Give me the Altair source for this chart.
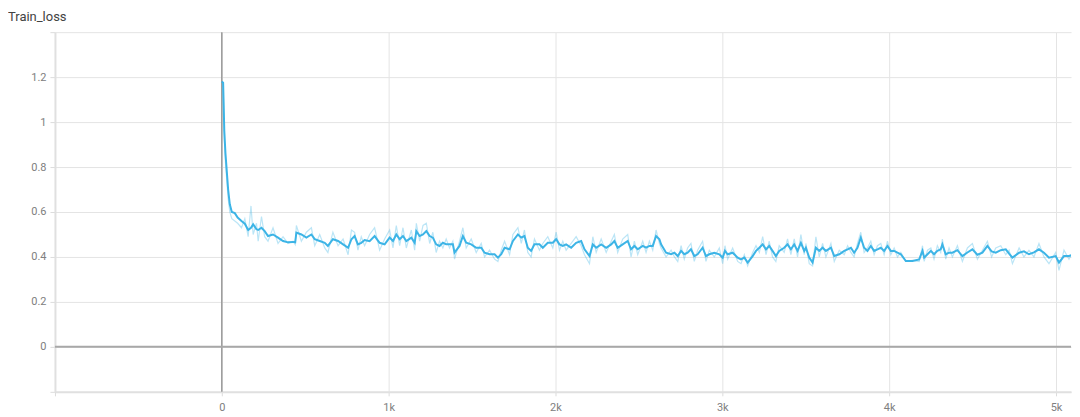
import altair as alt
import pandas as pd

steps = [0, 8, 15, 22, 28, 38, 48, 60, 78, 95,
         118, 138, 158, 175, 188, 208, 218, 238, 257, 277,
         307, 337, 367, 397, 427, 440, 447, 477, 507, 537,
         557, 587, 617, 636, 666, 697, 727, 757, 777, 796,
         816, 836, 856, 886, 916, 946, 976, 1006, 1026, 1046,
         1066, 1086, 1106, 1136, 1156, 1166, 1186, 1206, 1226, 1246,
         1265, 1285, 1305, 1325, 1345, 1365, 1385, 1395, 1425, 1445,
         1465, 1495, 1525, 1555, 1575, 1605, 1635, 1655, 1675, 1695,
         1725, 1745, 1775, 1795, 1814, 1834, 1854, 1874, 1904, 1924,
         1954, 1984, 2004, 2024, 2044, 2064, 2094, 2124, 2154, 2174,
         2204, 2224, 2244, 2274, 2304, 2334, 2353, 2373, 2403, 2433,
         2453, 2473, 2493, 2523, 2543, 2563, 2583, 2603, 2623, 2633,
         2663, 2693, 2713, 2733, 2753, 2772, 2792, 2812, 2832, 2852,
         2882, 2902, 2922, 2952, 2982, 3002, 3016, 3032, 3062, 3092,
         3112, 3132, 3152, 3182, 3202, 3222, 3242, 3262, 3281, 3301,
         3321, 3341, 3371, 3391, 3411, 3431, 3451, 3471, 3491, 3501,
         3521, 3541, 3561, 3581, 3601, 3621, 3651, 3671, 3701, 3731,
         3751, 3771, 3790, 3810, 3830, 3850, 3870, 3890, 3910, 3930,
         3950, 3970, 3990, 4010, 4030, 4050, 4070, 4100, 4140, 4180,
         4200, 4210, 4230, 4250, 4269, 4289, 4309, 4319, 4339, 4359,
         4379, 4409, 4439, 4469, 4499, 4529, 4559, 4589, 4614, 4639,
         4669, 4699, 4719, 4739, 4779, 4808, 4838, 4868, 4898, 4928,
         4958, 4998, 5018, 5048, 5078, 5108, 5138]

smoothed = [1.18, 1.175, 0.96, 0.86, 0.80, 0.70, 0.634, 0.60, 0.595, 0.575,
            0.56, 0.548, 0.52, 0.53, 0.545, 0.523, 0.52, 0.53, 0.515, 0.493,
            0.50, 0.486, 0.471, 0.465, 0.467, 0.465, 0.508, 0.50, 0.486, 0.50,
            0.479, 0.471, 0.463, 0.449, 0.479, 0.471, 0.456, 0.441, 0.479, 0.493,
            0.456, 0.463, 0.475, 0.47, 0.493, 0.463, 0.456, 0.486, 0.471, 0.50,
            0.479, 0.493, 0.471, 0.486, 0.463, 0.515, 0.493, 0.50, 0.515, 0.493,
            0.486, 0.456, 0.449, 0.463, 0.456, 0.456, 0.456, 0.419, 0.449, 0.493,
            0.463, 0.456, 0.441, 0.441, 0.419, 0.412, 0.412, 0.397, 0.412, 0.441,
            0.434, 0.471, 0.50, 0.486, 0.493, 0.441, 0.427, 0.456, 0.456, 0.441,
            0.463, 0.463, 0.479, 0.456, 0.449, 0.456, 0.441, 0.463, 0.471, 0.434,
            0.404, 0.456, 0.441, 0.456, 0.441, 0.456, 0.471, 0.441, 0.456, 0.471,
            0.434, 0.449, 0.434, 0.449, 0.441, 0.449, 0.449, 0.493, 0.479, 0.456,
            0.419, 0.412, 0.419, 0.404, 0.427, 0.412, 0.419, 0.434, 0.404, 0.412,
            0.441, 0.404, 0.412, 0.419, 0.412, 0.397, 0.427, 0.412, 0.419, 0.397,
            0.389, 0.397, 0.375, 0.404, 0.427, 0.441, 0.456, 0.434, 0.449, 0.427,
            0.404, 0.427, 0.441, 0.456, 0.434, 0.456, 0.427, 0.463, 0.427, 0.441,
            0.397, 0.375, 0.441, 0.427, 0.441, 0.427, 0.441, 0.404, 0.412, 0.427,
            0.434, 0.441, 0.419, 0.441, 0.486, 0.441, 0.427, 0.449, 0.427, 0.434,
            0.441, 0.427, 0.449, 0.427, 0.427, 0.419, 0.412, 0.382, 0.382, 0.389,
            0.427, 0.397, 0.412, 0.427, 0.412, 0.427, 0.434, 0.456, 0.412, 0.419,
            0.419, 0.43, 0.404, 0.42, 0.434, 0.41, 0.419, 0.449, 0.425, 0.419,
            0.43, 0.434, 0.415, 0.397, 0.419, 0.425, 0.412, 0.42, 0.434, 0.419,
            0.397, 0.404, 0.375, 0.404, 0.404, 0.412, 0.404]

raw = [1.18, 1.17, 0.93, 0.82, 0.76, 0.66, 0.60, 0.57, 0.56, 0.55,
       0.53, 0.57, 0.49, 0.627, 0.50, 0.55, 0.47, 0.58, 0.49, 0.47,
       0.53, 0.46, 0.49, 0.46, 0.47, 0.455, 0.54, 0.47, 0.51, 0.53,
       0.45, 0.50, 0.44, 0.42, 0.51, 0.45, 0.48, 0.41, 0.52, 0.51,
       0.43, 0.49, 0.45, 0.50, 0.53, 0.43, 0.48, 0.52, 0.44, 0.54,
       0.45, 0.53, 0.44, 0.52, 0.43, 0.55, 0.47, 0.54, 0.55, 0.46,
       0.51, 0.42, 0.47, 0.44, 0.48, 0.44, 0.47, 0.39, 0.47, 0.53,
       0.44, 0.48, 0.42, 0.46, 0.40, 0.43, 0.39, 0.38, 0.43, 0.47,
       0.41, 0.50, 0.53, 0.46, 0.52, 0.42, 0.40, 0.48, 0.43, 0.46,
       0.49, 0.44, 0.51, 0.43, 0.47, 0.43, 0.46, 0.49, 0.45, 0.41,
       0.37, 0.49, 0.42, 0.48, 0.42, 0.47, 0.50, 0.42, 0.48, 0.50,
       0.40, 0.47, 0.41, 0.47, 0.42, 0.47, 0.43, 0.52, 0.46, 0.44,
       0.40, 0.43, 0.40, 0.38, 0.45, 0.39, 0.44, 0.46, 0.38, 0.43,
       0.47, 0.38, 0.43, 0.40, 0.44, 0.37, 0.45, 0.39, 0.44, 0.38,
       0.37, 0.41, 0.36, 0.42, 0.45, 0.42, 0.49, 0.41, 0.47, 0.40,
       0.38, 0.45, 0.42, 0.48, 0.41, 0.48, 0.40, 0.50, 0.41, 0.46,
       0.37, 0.36, 0.49, 0.40, 0.46, 0.40, 0.46, 0.38, 0.43, 0.41,
       0.45, 0.42, 0.40, 0.46, 0.51, 0.42, 0.44, 0.47, 0.41, 0.45,
       0.46, 0.41, 0.47, 0.41, 0.44, 0.40, 0.42, 0.38, 0.385, 0.38,
       0.45, 0.38, 0.43, 0.44, 0.39, 0.45, 0.42, 0.48, 0.39, 0.44,
       0.40, 0.45, 0.38, 0.44, 0.46, 0.39, 0.43, 0.47, 0.40, 0.44,
       0.45, 0.41, 0.43, 0.37, 0.44, 0.40, 0.43, 0.40, 0.46, 0.40,
       0.37, 0.42, 0.34, 0.43, 0.39, 0.43, 0.40]

x_ticks = [-1000, 0, 1000, 2000, 3000, 4000, 5000]
y_ticks = [-0.2, 0, 0.2, 0.4, 0.6, 0.8, 1, 1.2, 1.4]

n = min(len(steps), len(smoothed), len(raw))
df = pd.DataFrame({"step": steps[:n], "smoothed": smoothed[:n], "raw": raw[:n]})

LINE = "#3cb4e6"
xs = alt.Scale(domain=[-1000, 5090], nice=False, zero=False)
ys = alt.Scale(domain=[-0.2, 1.4], nice=False, zero=False)

x_axis = alt.Axis(values=x_ticks, title=None, grid=True, gridColor="#e4e4e4",
                  domainColor="#e0e0e0", domainWidth=2, tickColor="#dcdcdc", tickSize=4,
                  labelColor="#808080", labelFont="Roboto", labelFontSize=11, labelPadding=6,
                  labelExpr="datum.value < 0 ? '' : (datum.value == 0 ? '0' : (datum.value / 1000) + 'k')")
y_axis = alt.Axis(values=y_ticks, title=None, grid=True, gridColor="#e4e4e4",
                  domainColor="#e0e0e0", domainWidth=2, tickColor="#dcdcdc", tickSize=5,
                  labelColor="#808080", labelFont="Roboto", labelFontSize=11, labelPadding=4,
                  minExtent=47, maxExtent=47,
                  labelExpr="(datum.value < -0.01 || datum.value > 1.3) ? '' : format(datum.value, '~g')")

base = alt.Chart(df)
raw_line = base.mark_line(color=LINE, opacity=0.35, strokeWidth=1.2, clip=True).encode(
    x=alt.X("step:Q", scale=xs, axis=x_axis),
    y=alt.Y("raw:Q", scale=ys, axis=y_axis),
)
smooth_line = base.mark_line(color=LINE, strokeWidth=2, clip=True).encode(
    x=alt.X("step:Q", scale=xs),
    y=alt.Y("smoothed:Q", scale=ys),
)
zero_df = pd.DataFrame({"z": [0]})
vzero = alt.Chart(zero_df).mark_rule(color="#9a9a9a", strokeWidth=1.5).encode(x=alt.X("z:Q", scale=xs))
hzero = alt.Chart(zero_df).mark_rule(color="#a8a8a8", strokeWidth=2).encode(y=alt.Y("z:Q", scale=ys))

chart = alt.layer(vzero, hzero, raw_line, smooth_line).properties(
    width=1017, height=360,
    title=alt.Title("Train_loss", anchor="start", frame="bounds", font="Roboto",
                    fontSize=13, fontWeight="normal", color="#424242", offset=7),
).configure(padding={"top": 3, "left": 0, "right": 0, "bottom": 0}).configure_view(stroke=None)

chart.save("out.html", embed_options={"renderer": "svg", "actions": False})
